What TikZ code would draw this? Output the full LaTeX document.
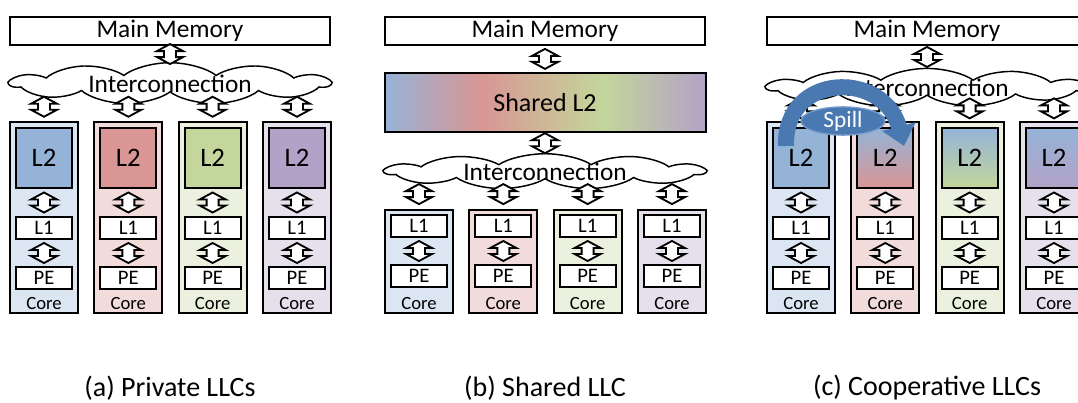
\documentclass[tikz,border=0pt]{standalone}
\usepackage{fontspec}
\setmainfont{Carlito}
\usetikzlibrary{positioning,calc,arrows.meta,shapes.symbols,shapes.geometric}

\definecolor{l2blue}{RGB}{149,179,215}
\definecolor{l2red}{RGB}{217,150,148}
\definecolor{l2green}{RGB}{195,214,155}
\definecolor{l2purple}{RGB}{179,162,199}
\definecolor{coreblue}{RGB}{220,230,242}
\definecolor{corered}{RGB}{242,220,219}
\definecolor{coregreen}{RGB}{235,241,222}
\definecolor{corepurple}{RGB}{230,224,236}
\definecolor{spillblue}{RGB}{74,121,178}
\definecolor{spilledge}{RGB}{120,155,205}

\pgfdeclarehorizontalshading{sharedl2}{100bp}{color(0bp)=(l2blue); color(25bp)=(l2blue); color(40bp)=(l2red); color(59bp)=(l2green); color(75bp)=(l2purple); color(100bp)=(l2purple)}

\tikzset{
  mem/.style={draw, line width=1.2pt, fill=white, minimum width=240pt, minimum height=21pt, inner sep=0pt, font=\fontsize{19}{20}\selectfont},
  netcloud/.style={cloud, cloud puffs=11, cloud puff arc=120, aspect=3.7, draw, line width=1.1pt, fill=white, minimum width=240pt, minimum height=65pt, inner sep=0pt},
  nettext/.style={inner sep=0pt, font=\fontsize{19}{20}\selectfont},
  updown/.pic={\draw[fill=white, line width=1.4pt, line join=miter] (0,-10) -- (13,-3) -- (6,-3) -- (6,3) -- (13,3) -- (0,10) -- (-13,3) -- (-6,3) -- (-6,-3) -- (-13,-3) -- cycle;},
  core/.style={draw, line width=1.5pt, minimum width=51pt, inner sep=0pt},
  ltwo/.style={draw, line width=1.5pt, minimum width=42pt, minimum height=45pt, inner sep=0pt, font=\fontsize{20}{22}\selectfont},
  lone/.style={draw, line width=1.5pt, fill=white, minimum width=42pt, minimum height=16.5pt, inner sep=0pt, font=\fontsize{15.5}{16}\selectfont},
  corelbl/.style={inner sep=0pt, font=\fontsize{14}{15}\selectfont},
  caption/.style={font=\fontsize{21}{22}\selectfont}
}

\begin{document}
\begin{tikzpicture}[x=0.75pt,y=-0.75pt]
\useasboundingbox (0,0) rectangle (1078,403);

\node[mem] (mmA) at (170,31) {Main Memory};
\node[netcloud, yscale=0.48] (icA) at (170,83.5) {};
\node[nettext] (icAtext) at (icA.center) {Interconnection};
\pic at ($(mmA.south)!0.5!(icA.north)$) {updown};
\foreach \i/\lc/\cc in {1/l2blue/coreblue,2/l2red/corered,3/l2green/coregreen,4/l2purple/corepurple}{
  \node[core, fill=\cc, minimum height=143.25pt] (coreA\i) at ({44+84.33*(\i-1)},217.5) {};
  \node[ltwo, fill=\lc, below=4.5pt of coreA\i.north] (ltwoA\i) {L2};
  \node[lone, below=20.25pt of ltwoA\i] (loneA\i) {L1};
  \node[lone, below=19.5pt of loneA\i] (peA\i) {PE};
  \node[corelbl, above=3pt of coreA\i.south] (lblA\i) {Core};
  \pic at ($(icA.south -| coreA\i.north)!0.5!(coreA\i.north)$) {updown};
  \pic at ($(ltwoA\i.south)!0.5!(loneA\i.north)$) {updown};
  \pic at ($(loneA\i.south)!0.5!(peA\i.north)$) {updown};
}
\node[caption] (capA) at (170,388) {(a) Private LLCs};

\node[mem] (mmB) at (545,31) {Main Memory};
\node[draw, line width=1.5pt, shading=sharedl2, minimum width=240.75pt, minimum height=44.25pt, inner sep=0pt, font=\fontsize{19.5}{21}\selectfont] (sharedB) at (545,102.5) {Shared L2};
\node[netcloud, yscale=0.41] (icB) at (545,171.5) {};
\node[nettext] (icBtext) at (icB.center) {Interconnection};
\pic at ($(mmB.south)!0.5!(sharedB.north)$) {updown};
\pic at ($(sharedB.south)!0.5!(icB.north)$) {updown};
\foreach \i/\cc in {1/coreblue,2/corered,3/coregreen,4/corepurple}{
  \node[core, fill=\cc, minimum height=77.25pt] (coreB\i) at ({419+84.33*(\i-1)},261.5) {};
  \node[lone, below=3.75pt of coreB\i.north] (loneB\i) {L1};
  \node[lone, below=19.5pt of loneB\i] (peB\i) {PE};
  \node[corelbl, above=3pt of coreB\i.south] (lblB\i) {Core};
  \pic at ($(icB.south -| coreB\i.north)!0.5!(coreB\i.north)$) {updown};
  \pic at ($(loneB\i.south)!0.5!(peB\i.north)$) {updown};
}
\node[caption] (capB) at (545,388) {(b) Shared LLC};

\node[mem] (mmC) at (927,31) {Main Memory};
\node[netcloud, yscale=0.44] (icC) at (927,87.5) {};
\node[nettext] (icCtext) at (icC.center) {Interconnection};
\pic at ($(mmC.south)!0.5!(icC.north)$) {updown};
\foreach \i/\lc/\cc in {1/l2blue/coreblue,2/l2red/corered,3/l2green/coregreen,4/l2purple/corepurple}{
  \node[core, fill=\cc, minimum height=143.25pt] (coreC\i) at ({801+84.33*(\i-1)},217.5) {};
  \node[ltwo, top color=l2blue, bottom color=\lc, below=4.5pt of coreC\i.north] (ltwoC\i) {L2};
  \node[lone, below=20.25pt of ltwoC\i] (loneC\i) {L1};
  \node[lone, below=19.5pt of loneC\i] (peC\i) {PE};
  \node[corelbl, above=3pt of coreC\i.south] (lblC\i) {Core};
  \pic at ($(icC.south -| coreC\i.north)!0.5!(coreC\i.north)$) {updown};
  \pic at ($(ltwoC\i.south)!0.5!(loneC\i.north)$) {updown};
  \pic at ($(loneC\i.south)!0.5!(peC\i.north)$) {updown};
}
\coordinate (spillfrom) at (786,146);
\coordinate (spillto) at (904,146);
\draw[spillblue, line width=12pt, -{Triangle[length=15pt, width=25pt]}] (spillfrom) .. controls (784,72) and (884,70) .. (spillto);
\node[ellipse, fill=spillblue, draw=spilledge, line width=1pt, text=white, minimum width=63pt, minimum height=19pt, inner sep=0pt, font=\fontsize{17.5}{18}\selectfont] (spill) at (843,121) {Spill};
\node[caption] (capC) at (927,388) {(c) Cooperative LLCs};
\end{tikzpicture}
\end{document}
